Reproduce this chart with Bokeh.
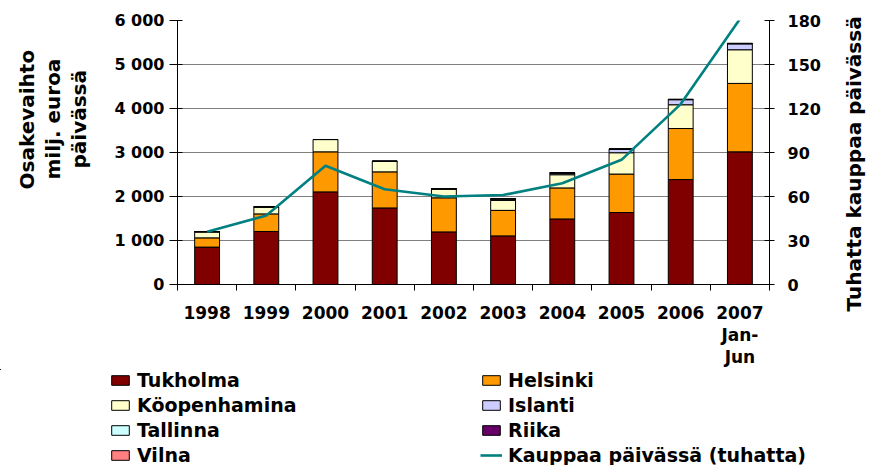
import math
from bokeh.plotting import figure
from bokeh.layouts import row
from bokeh.models import (ColumnDataSource, FixedTicker, LinearAxis, Range1d,
                          Title, Legend, LegendItem)
from bokeh.embed import file_html
from bokeh.resources import INLINE

# ---------------- data ----------------
years = ["1998", "1999", "2000", "2001", "2002", "2003", "2004", "2005", "2006", "2007\nJan-\nJun"]
tukholma = [850, 1205, 2105, 1740, 1195, 1105, 1490, 1635, 2385, 3015]
helsinki = [210, 400, 910, 820, 775, 580, 705, 875, 1160, 1555]
koopenhamina = [140, 160, 280, 240, 205, 225, 300, 485, 540, 765]
islanti = [0, 0, 0, 0, 0, 35, 38, 78, 115, 135]
tallinna = [0, 0, 0, 0, 0, 2, 3, 4, 4, 5]
riika = [0, 0, 0, 0, 0, 1, 2, 2, 2, 3]
vilna = [0, 0, 0, 0, 0, 1, 2, 2, 3, 3]
kauppaa = [36, 47, 81, 65, 60, 61, 69, 85, 123, 181]

left_ticks = [0, 1000, 2000, 3000, 4000, 5000, 6000]
left_tick_labels = ["0", "1 000", "2 000", "3 000", "4 000", "5 000", "6 000"]
right_ticks = [0, 30, 60, 90, 120, 150, 180]

series_names = ["Tukholma", "Helsinki", "Köopenhamina", "Islanti", "Tallinna", "Riika", "Vilna"]
series_vals = [tukholma, helsinki, koopenhamina, islanti, tallinna, riika, vilna]
series_colors = ["#800000", "#FF9900", "#FFFFCC", "#CCCCFF", "#CCFFFF", "#660066", "#FF8080"]
line_name = "Kauppaa päivässä (tuhatta)"
left_title_lines = ["Osakevaihto", "milj. euroa", "päivässä"]
right_title = "Tuhatta kauppaa päivässä"

# ---------------- main figure ----------------
FONT = "DejaVu Sans"
LINE_COLOR = "#008080"
TOP, BOTTOM = 20, 85
xc = [i + 0.5 for i in range(len(years))]
data = {"x": xc, "trades": kauppaa}
keys = []
for i, vals in enumerate(series_vals):
    k = "s%d" % i
    data[k] = vals
    keys.append(k)
source = ColumnDataSource(data)

p = figure(width=841, height=369, x_range=Range1d(0, len(years)), y_range=Range1d(0, 6000),
           output_backend="svg", toolbar_location=None,
           min_border_left=177, min_border_right=72, min_border_top=TOP, min_border_bottom=BOTTOM)
p.outline_line_color = None
p.background_fill_color = "white"
p.extra_y_ranges = {"r": Range1d(0, 180)}

bars = p.vbar_stack(keys, x="x", width=0.42, color=series_colors, line_color="black",
                    line_width=1, source=source)
ln = p.line(x="x", y="trades", source=source, y_range_name="r", line_color=LINE_COLOR, line_width=2.6)

# x axis
xa = p.xaxis[0]
xa.ticker = FixedTicker(ticks=xc, minor_ticks=list(range(len(years) + 1)))
xa.major_label_overrides = {x: lab for x, lab in zip(xc, years)}
xa.major_tick_out = 0
xa.major_tick_in = 0
xa.minor_tick_out = 6
xa.minor_tick_in = 0
xa.minor_tick_line_color = "black"
xa.axis_line_color = "black"
xa.major_label_text_font = FONT
xa.major_label_text_font_style = "bold"
xa.major_label_text_font_size = "17px"
xa.major_label_text_color = "black"
xa.major_label_text_line_height = 1.1
xa.major_label_standoff = 12

# left axis
ya = p.yaxis[0]
ya.ticker = FixedTicker(ticks=left_ticks, minor_ticks=[])
ya.major_label_overrides = {v: s for v, s in zip(left_ticks, left_tick_labels)}
ya.major_tick_out = 8
ya.major_tick_in = 5
ya.major_tick_line_color = "black"
ya.axis_line_color = "black"
ya.major_label_text_font = FONT
ya.major_label_text_font_style = "bold"
ya.major_label_text_font_size = "16px"
ya.major_label_text_color = "black"
ya.major_label_standoff = 5
ya.axis_label = " "
ya.axis_label_text_font_size = "1px"
ya.axis_label_standoff = 17

# right axis
ra = LinearAxis(y_range_name="r", ticker=FixedTicker(ticks=right_ticks, minor_ticks=[]))
ra.major_tick_out = 5
ra.major_tick_in = 5
ra.axis_line_color = "black"
ra.major_label_text_font = FONT
ra.major_label_text_font_style = "bold"
ra.major_label_text_font_size = "16px"
ra.major_label_text_color = "black"
ra.major_label_standoff = 13
p.add_layout(ra, "right")

p.xgrid.visible = False
p.ygrid.ticker = ya.ticker
p.ygrid.grid_line_color = "#808080"
p.ygrid.grid_line_width = 1

# left titles (innermost first); each starts "offset" px above the frame bottom
title_offsets = {"päivässä": 116, "milj. euroa": 105, "Osakevaihto": 95}
for txt in reversed(left_title_lines):
    t = Title(text=txt, align="left", offset=title_offsets[txt], standoff=0,
              text_font=FONT, text_font_style="bold", text_font_size="20px",
              text_line_height=1.0, text_color="black")
    p.add_layout(t, "left")

# ---------------- right title strip ----------------
rf = figure(width=24, height=369, x_range=Range1d(0, 1), y_range=Range1d(0, 1),
            output_backend="svg", toolbar_location=None, min_border_left=0, min_border_right=0,
            min_border_top=TOP, min_border_bottom=BOTTOM,
            x_axis_location=None, y_axis_location=None)
rf.grid.visible = False
rf.outline_line_color = None
rf.add_layout(Title(text=right_title, align="left", offset=-27, standoff=0,
                    text_font=FONT, text_font_style="bold", text_font_size="20px",
                    text_line_height=1.0, text_color="black"), "left")

# ---------------- legend figure ----------------
lf = figure(width=861, height=96, x_range=Range1d(100, 101), y_range=Range1d(-2, -1),
            output_backend="svg", toolbar_location=None, min_border=0,
            x_axis_location=None, y_axis_location=None)
lf.grid.visible = False
lf.outline_line_color = None
lbars = lf.vbar_stack(keys, x="x", width=0.42, color=series_colors, line_color="black",
                      line_width=1, source=source)
lline = lf.line(x="x", y="trades", source=source, line_color=LINE_COLOR, line_width=2.6)
rend = dict(zip(series_names, lbars))
rend[line_name] = lline

order = ["Tukholma", "Köopenhamina", "Tallinna", "Vilna", "Helsinki", "Islanti", "Riika", line_name]
items = [LegendItem(label=n, renderers=[rend[n]]) for n in order]
legend = Legend(items=items, location=(109, -1), ncols=2, orientation="vertical",
                glyph_width=22, glyph_height=12, label_standoff=6, label_width=340,
                spacing=3, padding=0, margin=0, border_line_color=None,
                background_fill_alpha=0, label_text_font=FONT, label_text_font_style="bold",
                label_text_font_size="19px", label_text_color="black")
lf.add_layout(legend)

top_row = row(p, rf, spacing=0)
open("out.html", "w").write(file_html([top_row, lf], INLINE))
